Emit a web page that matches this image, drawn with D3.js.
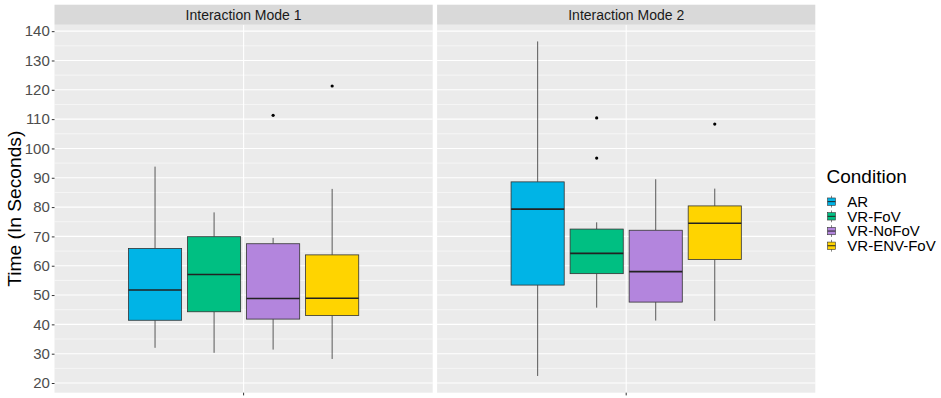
<!DOCTYPE html>
<html>
<head>
<meta charset="utf-8">
<script src="https://cdn.jsdelivr.net/npm/d3@7"></script>
<style>
  body { margin: 0; background: #fff; }
  svg { display: block; font-family: "Liberation Sans", Arial, sans-serif; }
</style>
</head>
<body>
<svg id="chart" width="941" height="398"></svg>
<script>
// ---- data ----
const modes = ["Interaction Mode 1", "Interaction Mode 2"];
const conditions = ["AR", "VR-FoV", "VR-NoFoV", "VR-ENV-FoV"];
const colors = ["#00B4E6", "#00BF82", "#B385DD", "#FFD400"];
// per mode, per condition
const whiskerLow  = [[32.0, 30.3, 31.4, 28.2], [22.4, 45.7, 41.3, 41.2]];
const q1          = [[41.4, 44.3, 41.8, 43.0], [53.4, 57.3, 47.6, 62.1]];
const medians     = [[51.7, 57.0, 48.8, 48.9], [79.3, 64.2, 58.0, 74.5]];
const q3          = [[65.9, 69.9, 67.5, 63.7], [88.6, 72.5, 72.1, 80.4]];
const whiskerHigh = [[93.8, 78.2, 69.5, 86.2], [136.5, 74.8, 89.5, 86.3]];
const outliers    = [[[], [], [111.3], [121.3]], [[], [110.4, 96.7], [], [108.3]]];
const yTicks = [20, 30, 40, 50, 60, 70, 80, 90, 100, 110, 120, 130, 140];
const yTitle = "Time (In Seconds)";
const legendTitle = "Condition";

// ---- layout ----
const svg = d3.select("#chart");
const W = 941, H = 398;
const panelLeft = 54.5, panelRight = 815.3;
const stripTop = 4.7, stripBottom = 24.7, panelBottom = 392.7;

// y domain with ggplot-style 5% expansion
let allVals = [];
for (let m = 0; m < modes.length; m++) {
  for (let c = 0; c < conditions.length; c++) {
    allVals.push(whiskerLow[m][c], whiskerHigh[m][c], ...outliers[m][c]);
  }
}
const [vmin, vmax] = d3.extent(allVals);
const pad = (vmax - vmin) * 0.05;
const y = d3.scaleLinear().domain([vmin - pad, vmax + pad]).range([panelBottom, stripBottom]);

const xPanel = d3.scaleBand().domain(modes).range([panelLeft, panelRight])
  .paddingInner(0.0115).paddingOuter(0);
const bw = xPanel.bandwidth();
const xCond = d3.scaleBand().domain(conditions)
  .range([bw * 0.1878, bw * 0.8122]).paddingInner(0.1).paddingOuter(0.05);

svg.append("rect").attr("width", W).attr("height", H).attr("fill", "#fff");

const minorTicks = d3.range(15, 146, 10).filter(v => v >= y.domain()[0] && v <= y.domain()[1]);

modes.forEach((mode, m) => {
  const g = svg.append("g").attr("transform", `translate(${xPanel(mode)},0)`);
  // panel bg
  g.append("rect").attr("x", 0).attr("y", stripBottom).attr("width", bw)
    .attr("height", panelBottom - stripBottom).attr("fill", "#EBEBEB");
  // minor grid
  g.selectAll(".minor").data(minorTicks).join("line")
    .attr("x1", 0).attr("x2", bw).attr("y1", d => y(d)).attr("y2", d => y(d))
    .attr("stroke", "#fff").attr("stroke-width", 0.55);
  // major grid
  g.selectAll(".major").data(yTicks).join("line")
    .attr("x1", 0).attr("x2", bw).attr("y1", d => y(d)).attr("y2", d => y(d))
    .attr("stroke", "#fff").attr("stroke-width", 1.1);
  g.append("line").attr("x1", bw / 2).attr("x2", bw / 2)
    .attr("y1", stripBottom).attr("y2", panelBottom)
    .attr("stroke", "#fff").attr("stroke-width", 1.1);
  // strip
  g.append("rect").attr("x", 0).attr("y", stripTop).attr("width", bw)
    .attr("height", stripBottom - stripTop).attr("fill", "#D9D9D9");
  g.append("text").attr("x", bw / 2).attr("y", 19.6).attr("text-anchor", "middle")
    .attr("font-size", 14).attr("fill", "#1A1A1A").text(mode);
  // x tick
  g.append("line").attr("x1", bw / 2).attr("x2", bw / 2)
    .attr("y1", panelBottom).attr("y2", panelBottom + 2.7)
    .attr("stroke", "#333").attr("stroke-width", 1);

  // boxes
  conditions.forEach((cond, c) => {
    const x0 = xCond(cond), w = xCond.bandwidth(), cx = x0 + w / 2;
    g.append("line").attr("x1", cx).attr("x2", cx)
      .attr("y1", y(q3[m][c])).attr("y2", y(whiskerHigh[m][c]))
      .attr("stroke", "#333").attr("stroke-width", 0.8);
    g.append("line").attr("x1", cx).attr("x2", cx)
      .attr("y1", y(q1[m][c])).attr("y2", y(whiskerLow[m][c]))
      .attr("stroke", "#333").attr("stroke-width", 0.8);
    g.append("rect").attr("x", x0).attr("y", y(q3[m][c])).attr("width", w)
      .attr("height", y(q1[m][c]) - y(q3[m][c]))
      .attr("fill", colors[c]).attr("stroke", "#333").attr("stroke-width", 0.8);
    g.append("line").attr("x1", x0).attr("x2", x0 + w)
      .attr("y1", y(medians[m][c])).attr("y2", y(medians[m][c]))
      .attr("stroke", "#222").attr("stroke-width", 1.6);
    g.selectAll(null).data(outliers[m][c]).join("circle")
      .attr("cx", cx).attr("cy", d => y(d)).attr("r", 1.6).attr("fill", "#000");
  });
});

// y axis
const yAxis = d3.axisLeft(y).tickValues(yTicks).tickSize(2.7).tickPadding(2);
const ya = svg.append("g").attr("transform", `translate(${panelLeft},0)`).call(yAxis);
ya.select(".domain").remove();
ya.selectAll(".tick line").attr("stroke", "#333");
ya.selectAll(".tick text").attr("font-size", 15).attr("fill", "#4D4D4D")
  .attr("font-family", "Liberation Sans, Arial, sans-serif");

svg.append("text")
  .attr("transform", `translate(21,${(stripBottom + panelBottom) / 2}) rotate(-90)`)
  .attr("text-anchor", "middle").attr("font-size", 19.2).attr("fill", "#000")
  .text(yTitle);

// legend
const lg = svg.append("g");
lg.append("text").attr("x", 826.5).attr("y", 183.3).attr("font-size", 19)
  .attr("fill", "#000").text(legendTitle);
const keyH = 14.7, keyW = 10.4, keyX = 826.3, keyY0 = 194.3;
conditions.forEach((cond, c) => {
  const ky = keyY0 + c * keyH;
  const kx = keyX;
  lg.append("line").attr("x1", kx + keyW / 2).attr("x2", kx + keyW / 2)
    .attr("y1", ky + keyH * 0.1).attr("y2", ky + keyH * 0.9)
    .attr("stroke", "#333").attr("stroke-width", 0.6);
  lg.append("rect").attr("x", kx + keyW * 0.125).attr("y", ky + keyH * 0.25)
    .attr("width", keyW * 0.75).attr("height", keyH * 0.5)
    .attr("fill", colors[c]).attr("stroke", "#333").attr("stroke-width", 0.6);
  lg.append("line").attr("x1", kx + keyW * 0.125).attr("x2", kx + keyW * 0.875)
    .attr("y1", ky + keyH / 2).attr("y2", ky + keyH / 2)
    .attr("stroke", "#222").attr("stroke-width", 1);
  lg.append("text").attr("x", 847.3).attr("y", ky + keyH / 2 + 5.3)
    .attr("font-size", 15).attr("fill", "#000").text(cond);
});
</script>
</body>
</html>
